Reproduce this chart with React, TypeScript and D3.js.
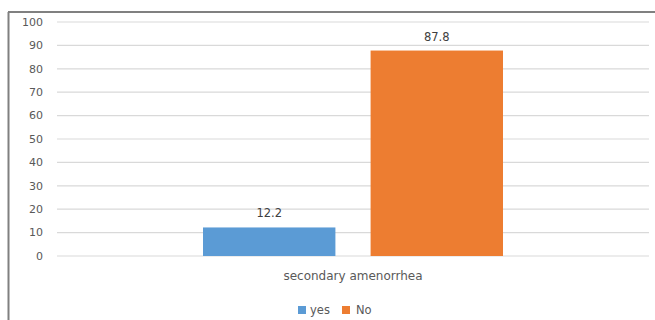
import React from "react";
import * as d3 from "d3";

const categories = ["secondary amenorrhea"];
const seriesNames = ["yes", "No"];
const seriesValues = [12.2, 87.8];
const yTicks = [0, 10, 20, 30, 40, 50, 60, 70, 80, 90, 100];
const colors = ["#5B9BD5", "#ED7D31"];

export default function App() {
  const W = 655, H = 320;
  const y = d3.scaleLinear().domain([0, 100]).range([256, 22]);
  const x = d3.scaleBand().domain(categories).range([57, 649]);
  const center = (x(categories[0]) as number) + x.bandwidth() / 2;
  const xSub = d3.scaleBand().domain(seriesNames).range([center - 150, center + 150]).paddingInner(0.21);
  const font = "'DejaVu Sans', Verdana, sans-serif";

  return (
    <svg width={W} height={H} style={{ position: "absolute", left: 0, top: 0, background: "#fff" }} fontFamily={font}>
      <rect x={0} y={0} width={W} height={H} fill="#fff" />
      {/* border */}
      <line x1={8.5} x2={8.5} y1={12} y2={H} stroke="#808080" strokeWidth={2} />
      <line x1={8} x2={W} y1={12} y2={12} stroke="#808080" strokeWidth={2} />
      {yTicks.map((t) => (
        <g key={t}>
          <line x1={57} x2={649} y1={y(t)} y2={y(t)} stroke="#d9d9d9" strokeWidth={1.2} />
          <text x={43} y={y(t)} dy="0.35em" textAnchor="end" fontSize={11} fill="#595959">{t}</text>
        </g>
      ))}
      {seriesNames.map((s, i) => {
        const bx = xSub(s) as number;
        const v = seriesValues[i];
        return (
          <g key={s}>
            <rect x={bx} y={y(v)} width={xSub.bandwidth()} height={y(0) - y(v)} fill={colors[i]} />
            <text x={bx + xSub.bandwidth() / 2} y={y(v) - 14} dy="0.35em" textAnchor="middle" fontSize={11.5} fill="#404040">{v}</text>
          </g>
        );
      })}
      <text x={center} y={276} dy="0.35em" textAnchor="middle" fontSize={12} fill="#595959">{categories[0]}</text>
      {(() => {
        const items = [{ x: 298, tx: 310 }, { x: 342, tx: 356 }];
        return seriesNames.map((s, i) => (
          <g key={s}>
            <rect x={items[i].x} y={306} width={8} height={8} fill={colors[i]} />
            <text x={items[i].tx} y={310} dy="0.35em" fontSize={11.5} fill="#595959">{s}</text>
          </g>
        ));
      })()}
    </svg>
  );
}
